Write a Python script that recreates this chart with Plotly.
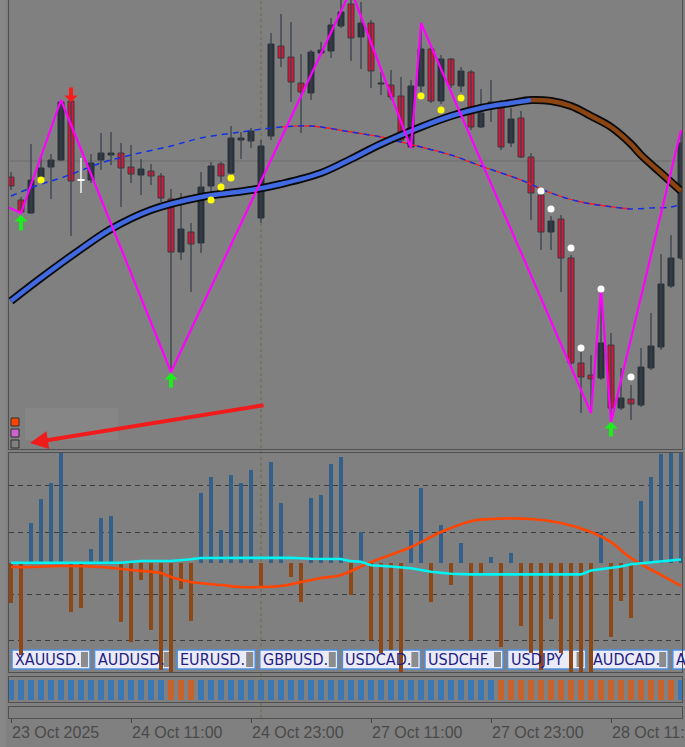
import plotly.graph_objects as go

# ---------------- data ----------------
time_labels = ["23 Oct 2025", "24 Oct 11:00", "24 Oct 23:00", "27 Oct 11:00", "27 Oct 23:00", "28 Oct 11:00"]
time_label_bars = [0, 12, 24, 36, 48, 60]

opens = [4051.5, 4040, 4033.5, 4051.5, 4056.5, 4060, 4089.5, 4050, 4050, 4060, 4062.5, 4063.5, 4056.5, 4052.5,
         4054.5, 4052, 4040.5, 4014, 4024, 4018.5, 4047, 4058, 4053.5, 4070, 4069.5, 4031, 4072, 4117, 4111.5,
         4098.5, 4093.5, 4113.5, 4114.5, 4127, 4138, 4121.5, 4128.5, 4098, 4097.5, 4092, 4066.5, 4097, 4115.5,
         4089.5, 4110.5, 4097, 4104, 4076.5, 4088, 4086, 4068.5, 4081, 4061.5, 4042.5, 4024, 4030.5, 4011,
         3958.5, 3952.5, 3951, 3967.5, 3936, 3940.5, 3937.5, 3956, 3966.5, 3997, 4011]
highs = [4054, 4041.5, 4068, 4062.5, 4063, 4090, 4091, 4061, 4063, 4073.5, 4074, 4068.5, 4067.5, 4060.5,
         4058, 4053.5, 4045.5, 4043.5, 4028.5, 4054, 4059, 4059, 4077, 4074, 4076, 4070, 4123.5, 4133, 4129,
         4113, 4115, 4119, 4131, 4142, 4145, 4139, 4130, 4104, 4105, 4101.5, 4100, 4128.5, 4116.5,
         4112.5, 4111, 4106.5, 4105, 4095.5, 4100, 4090, 4086, 4084.5, 4063.5, 4043, 4032, 4032.5, 4012.5,
         3964, 3962.5, 3995.5, 3973.5, 3956, 3947.5, 3966, 3983.5, 4013, 4022.5, 4075]
lows = [4045, 4033.5, 4033, 4050.5, 4040.5, 4059.5, 4022, 4043.5, 4048.5, 4055, 4057.5, 4036.5, 4048.5, 4042.5,
        4047.5, 4039, 3954, 4010, 3994, 4013.5, 4042.5, 4049, 4052, 4060.5, 4066, 4028.5, 4070, 4106.5, 4089,
        4073.5, 4090, 4112.5, 4111, 4126, 4109.5, 4105.5, 4096, 4092.5, 4090, 4068.5, 4066, 4094, 4088.5,
        4088, 4096, 4094, 4075, 4076, 4079, 4065, 4066.5, 4061, 4030, 4015, 4015, 3994, 3957.5,
        3933.5, 3933.5, 3950, 3929, 3935, 3930, 3936.5, 3955, 3965, 3996, 4010]
closes = [4047, 4034, 4050, 4056, 4060, 4089, 4049.5, 4050, 4058.5, 4063.5, 4063.5, 4056, 4053, 4055.5,
          4052, 4041, 4014, 4025.5, 4018, 4046.5, 4057, 4052, 4071, 4071, 4074.5, 4067, 4118, 4111, 4099,
          4094, 4114, 4115, 4127.5, 4134, 4121, 4128.5, 4104.5, 4098.5, 4091.5, 4070, 4097, 4115.5, 4089.5,
          4110.5, 4097.5, 4104.5, 4076.5, 4083.5, 4089, 4066.5, 4080.5, 4061.5, 4043.5, 4024, 4029.5, 4011, 3958.5,
          3951.5, 3950.5, 3968.5, 3936, 3941, 3938, 3956.5, 3967, 3998, 4011, 4068.5]

# fast moving average (thick, blue rising / brown falling)
ma_fast_bars = [0, 3, 7, 10, 14, 19, 24, 27, 31, 34, 37, 41, 44, 47, 50, 52, 54, 56, 58, 60, 62, 63, 65, 67]
ma_fast_vals = [3989.5, 4001, 4015.5, 4025.5, 4035, 4041.5, 4045, 4048, 4053.5, 4060.5, 4068, 4076.5, 4082,
                4086, 4088.5, 4090, 4089.5, 4087, 4082, 4076.5, 4068, 4062.5, 4053.5, 4044.5]
ma_fast_turn_bar = 52

# slow moving average (thin, blue dashed / red)
ma_slow_bars = [0, 3, 5, 9, 12, 16, 19, 23, 26, 27, 30, 34, 37, 39, 41, 44, 47, 51, 54, 57, 61, 62, 64, 66, 67]
ma_slow_vals = [4042, 4048, 4051, 4058.5, 4062.5, 4067, 4071, 4074, 4076, 4076.5, 4077, 4074, 4071.5, 4069,
                4066.5, 4062.5, 4057, 4050, 4043.5, 4039, 4036, 4035.5, 4036, 4036.5, 4038]
ma_slow_red_from, ma_slow_red_to = 27, 62

# zigzag
zz_bars = [-1, 1, 5, 16, 34, 40, 41, 58, 59, 60, 67]
zz_vals = [4038, 4033.5, 4090, 3954, 4145, 4066, 4128.5, 3933.5, 3995.5, 3929, 4075]

# signal dots
yellow_bars = [3, 20, 21, 22, 41, 43, 45]
yellow_vals = [4050, 4040, 4046.5, 4051, 4092, 4085, 4091]
white_bars = [53, 54, 56, 57, 59, 62]
white_vals = [4044.5, 4035.5, 4016, 3966, 3995.5, 3951.5]

# arrows
buy_bars = [1, 16, 60]
buy_tip = [4032.5, 3953.5, 3929]
buy_tail = [4024, 3945.5, 3921]
sell_bars = [6]
sell_tip = [4089]
sell_tail = [4097]

# drawn trend arrow (tail -> tip)
trend_arrow_bars = [25.4, 1.9]
trend_arrow_vals = [3937.5, 3918.5]

level_price = 4059.5
day_sep_bar = 25

# indicator histogram and lines
hist_values = [-25.8, -59.4, 25.8, 41.3, 51.6, 72, -31.6, -29, 9, 29, 30.3, -38, -51, -11, -43.2, -69, -75,
               -16.8, -37.4, 45.2, 55.5, 21.3, 56.8, 51.6, 60, -15.5, 65.2, 38.7, -9, -25.2, 42, 43.9, 63.9,
               68.4, -20.6, 20, -49.7, -58, -56, -75, 21.3, 48.4, -25.2, 24.5, -14.2, 12.9, -49.7, -7.7, 3.9,
               -54.2, 6.5, -40.6, -58, -69, -36.1, -58, -75, -75, -75, 19.4, -47.7, -24.5, -35.5, 40, 55.5,
               70.3, 75, 75]
signal_bars = [0, 11, 13, 16, 18, 19, 28, 30, 33, 34, 35, 36, 38, 40, 42, 44, 46, 57, 58, 60, 61, 62, 64, 67]
signal_vals = [0.2, 0.2, 1.3, 1.3, 2.4, 3.2, 3.4, 2.8, 2.6, 1.2, 0.8, -1.4, -2.2, -3.4, -5.6, -6.9, -7.3,
               -7.3, -4.8, -3.3, -2.2, -0.8, 0.3, 2.3]
slow_bars = [0, 2, 5, 9, 12, 15, 16, 18, 21, 23, 25, 27, 29, 31, 33, 36, 40, 43, 46, 48, 52, 55, 58, 60,
             62, 65, 67]
slow_vals = [-2.6, -2.6, -1.9, -2.6, -4.5, -6.5, -9, -12.3, -14.2, -15.5, -15.5, -14.8, -12.3, -9.7, -7.7,
             0.6, 10.3, 20, 27, 28.4, 28.4, 25.8, 20, 13.5, 3.2, -7.7, -14.8]
grid_levels = [-50, -20, 20, 50]

# trend strip states (1 = up/blue, -1 = down/orange)
trend_state = [1, 1, 1, 1, 1, 1, 1, 1, 1, 1, 1, 1, 1, 1, 1, 1, -1, -1, -1,
               1, 1, 1, 1, 1, 1, 1, 1, 1, 1, 1, 1, 1, 1, 1, 1, 1, 1, 1, 1, 1, 1, 1, 1, 1, 1, 1, 1, 1, 1,
               -1, -1, -1, -1, -1, -1, -1, -1, -1, -1, -1, -1, -1, -1, -1, -1, -1, -1, 1]

symbols = ["XAUUSD.", "AUDUSD.", "EURUSD.", "GBPUSD.", "USDCAD.", "USDCHF.", "USDJPY", "AUDCAD.", "A"]

# ---------------- figure ----------------
W, H = 685, 747


def fx(p):
    return p / W


def fy(p):
    return 1 - p / H


n = len(opens)
fig = go.Figure()

# candles: wicks
wx, wy, dxs, dys = [], [], [], []
for i in range(n):
    if opens[i] == closes[i]:
        dxs += [i, i, None]
        dys += [highs[i], lows[i], None]
    else:
        wx += [i, i, None]
        wy += [highs[i], lows[i], None]
fig.add_trace(go.Scatter(x=wx, y=wy, mode="lines", line=dict(color="#39424b", width=1.3), hoverinfo="skip"))
bull = [i for i in range(n) if closes[i] > opens[i]]
bear = [i for i in range(n) if closes[i] < opens[i]]
doji = [i for i in range(n) if closes[i] == opens[i]]
fig.add_trace(go.Bar(x=bull, base=[opens[i] for i in bull], y=[closes[i] - opens[i] for i in bull], width=0.6,
                     marker=dict(color="#2c333a", line=dict(color="#2c333a", width=1))))
fig.add_trace(go.Bar(x=bear, base=[closes[i] for i in bear], y=[opens[i] - closes[i] for i in bear], width=0.6,
                     marker=dict(color="#dc143c", line=dict(color="#3a3a3a", width=1))))
fig.add_trace(go.Scatter(x=dxs, y=dys, mode="lines", line=dict(color="white", width=1.3), hoverinfo="skip"))
fig.add_trace(go.Bar(x=doji, base=[closes[i] - 0.3 for i in doji], y=[0.6 for i in doji], width=0.7,
                     marker=dict(color="white", line=dict(width=0))))

# slow MA: red section + blue dashes
red_idx = [k for k, b in enumerate(ma_slow_bars) if ma_slow_red_from <= b <= ma_slow_red_to]
fig.add_trace(go.Scatter(x=[ma_slow_bars[k] for k in red_idx], y=[ma_slow_vals[k] for k in red_idx],
                         mode="lines", line=dict(color="#ff1a1a", width=1.3, shape="spline")))
fig.add_trace(go.Scatter(x=ma_slow_bars, y=ma_slow_vals, mode="lines",
                         line=dict(color="#1030e8", width=1.5, dash="6px,5px", shape="spline")))

# fast MA thick
fig.add_trace(go.Scatter(x=ma_fast_bars, y=ma_fast_vals, mode="lines",
                         line=dict(color="#0a0a0a", width=8, shape="spline")))
up_idx = [k for k, b in enumerate(ma_fast_bars) if b <= ma_fast_turn_bar]
dn_idx = [k for k, b in enumerate(ma_fast_bars) if b >= ma_fast_turn_bar]
fig.add_trace(go.Scatter(x=[ma_fast_bars[k] for k in up_idx], y=[ma_fast_vals[k] for k in up_idx], mode="lines",
                         line=dict(color="#4169e1", width=4.5, shape="spline")))
fig.add_trace(go.Scatter(x=[ma_fast_bars[k] for k in dn_idx], y=[ma_fast_vals[k] for k in dn_idx], mode="lines",
                         line=dict(color="#8b4513", width=4.5, shape="spline")))

# zigzag
fig.add_trace(go.Scatter(x=zz_bars, y=zz_vals, mode="lines", line=dict(color="#ff00ff", width=2.2)))

# dots
fig.add_trace(go.Scatter(x=yellow_bars, y=yellow_vals, mode="markers",
                         marker=dict(color="#ffff00", size=7, line=dict(width=0))))
fig.add_trace(go.Scatter(x=white_bars, y=white_vals, mode="markers",
                         marker=dict(color="#ffffff", size=7, line=dict(width=0))))

# indicator panel
hist_colors = ["#335f8b" if v >= 0 else "#8e4818" for v in hist_values]
fig.add_trace(go.Bar(x=list(range(n)), y=hist_values, width=0.4, marker=dict(color=hist_colors, line=dict(width=0)),
                     xaxis="x2", yaxis="y2"))
fig.add_trace(go.Scatter(x=slow_bars, y=slow_vals, mode="lines", line=dict(color="#ff4500", width=2.6, shape="spline"),
                         xaxis="x2", yaxis="y2"))
fig.add_trace(go.Scatter(x=signal_bars, y=signal_vals, mode="lines", line=dict(color="#00f4f4", width=2.6),
                         xaxis="x2", yaxis="y2"))

# trend strip
strip_colors = ["#3a78b5" if s > 0 else "#c5622e" for s in trend_state]
fig.add_trace(go.Bar(x=list(range(n)), base=[0.08 for s in trend_state], y=[0.8 for s in trend_state], width=0.6,
                     marker=dict(color=strip_colors, line=dict(width=0)), xaxis="x3", yaxis="y3"))

# empty bottom panel (carries the time axis)
fig.add_trace(go.Scatter(x=[None], y=[None], xaxis="x4", yaxis="y4"))

# ---------------- annotations ----------------
annotations = []
for b, t, tl in zip(buy_bars, buy_tip, buy_tail):
    annotations.append(dict(x=b, y=t, ax=b, ay=tl, xref="x", yref="y", axref="x", ayref="y", text="",
                            showarrow=True, arrowhead=1, arrowwidth=4, arrowsize=0.55, arrowcolor="#19f019"))
for b, t, tl in zip(sell_bars, sell_tip, sell_tail):
    annotations.append(dict(x=b, y=t, ax=b, ay=tl, xref="x", yref="y", axref="x", ayref="y", text="",
                            showarrow=True, arrowhead=1, arrowwidth=4, arrowsize=0.55, arrowcolor="#ff1a1a"))
annotations.append(dict(x=trend_arrow_bars[1], y=trend_arrow_vals[1], ax=trend_arrow_bars[0], ay=trend_arrow_vals[0],
                        xref="x", yref="y", axref="x", ayref="y", text="", showarrow=True, arrowhead=2,
                        arrowwidth=4, arrowsize=0.9, arrowcolor="#f21b1b"))

shapes = []
# left strip
shapes.append(dict(type="rect", xref="paper", yref="paper", x0=0, x1=fx(6), y0=0, y1=1,
                   fillcolor="#878787", line=dict(width=0), layer="below"))
# level line and day separator
shapes.append(dict(type="line", xref="paper", yref="y", x0=fx(9), x1=fx(682), y0=level_price, y1=level_price,
                   line=dict(color="#6c6c6c", width=1), layer="below"))
shapes.append(dict(type="line", xref="x", yref="paper", x0=day_sep_bar, x1=day_sep_bar, y0=fy(718), y1=1,
                   line=dict(color="#6a6a42", width=1, dash="3px,3px"), layer="below"))
# faint box & colour squares bottom-left of main panel
shapes.append(dict(type="rect", xref="paper", yref="paper", x0=fx(25), x1=fx(118), y0=fy(440), y1=fy(408),
                   fillcolor="rgba(255,255,255,0.05)", line=dict(width=0), layer="below"))
for k, col in enumerate(["#ff4500", "#cc66cc", "#808080"]):
    top = 418 + 11 * k
    shapes.append(dict(type="rect", xref="paper", yref="paper", x0=fx(11), x1=fx(19), y0=fy(top + 8), y1=fy(top),
                       fillcolor=col, line=dict(color="#2e2e2e", width=1)))
# symbol buttons
for k, s in enumerate(symbols):
    x0 = 12 + 82.6 * k
    x1 = x0 + 78
    shapes.append(dict(type="rect", xref="paper", yref="paper", x0=fx(x0), x1=fx(x1), y0=fy(669), y1=fy(650),
                       fillcolor="#ebebf7", line=dict(color="#4f8fdc", width=1.5), layer="below"))
    shapes.append(dict(type="rect", xref="paper", yref="paper", x0=fx(x1 - 9), x1=fx(x1 - 2), y0=fy(667), y1=fy(652),
                       fillcolor="#8c8c8c", line=dict(width=0), layer="below"))
    annotations.append(dict(x=fx(x0 + 1), y=fy(659.5), xref="paper", yref="paper", xanchor="left", yanchor="middle",
                            text=s, showarrow=False,
                            font=dict(family="DejaVu Sans Condensed, Liberation Sans, Arial", size=16,
                                      color="#1e1e86")))

frame = dict(showgrid=False, zeroline=False, showticklabels=False, showline=True, mirror=True,
             linecolor="#505050", linewidth=1, fixedrange=True, automargin=False)
xr = [-0.2, 67.1]
xdom = [fx(9), fx(682)]
fig.update_layout(
    width=W, height=H, margin=dict(l=0, r=0, t=0, b=0, autoexpand=False),
    paper_bgcolor="#808080", plot_bgcolor="rgba(0,0,0,0)",
    showlegend=False, barmode="overlay", hovermode=False,
    xaxis=dict(domain=xdom, range=xr, anchor="y", **frame),
    yaxis=dict(domain=[fy(449), fy(0)], range=[3915.5, 4140], anchor="x", **frame),
    xaxis2=dict(domain=xdom, range=xr, anchor="y2", **frame),
    yaxis2=dict(domain=[fy(672), fy(453)], range=[-70.3, 70.97], anchor="x2",
                showgrid=True, gridcolor="#3c3c3c", griddash="5px,4px", gridwidth=1, tickvals=grid_levels,
                zeroline=False, showticklabels=False, showline=True, mirror=True, linecolor="#505050",
                linewidth=1, fixedrange=True, automargin=False),
    xaxis3=dict(domain=xdom, range=xr, anchor="y3", **frame),
    yaxis3=dict(domain=[fy(702), fy(677)], range=[0, 1], anchor="x3", **frame),
    xaxis4=dict(domain=xdom, range=xr, anchor="y4", showgrid=False, zeroline=False, showline=True, mirror=True,
                linecolor="#505050", linewidth=1, fixedrange=True, automargin=False,
                tickmode="array", tickvals=time_label_bars, ticktext=time_labels, ticks="outside", ticklen=4,
                tickcolor="#444444", ticklabelposition="outside right", ticklabeloverflow="allow",
                tickfont=dict(family="Liberation Sans, Arial", size=16, color="#4a4a4a")),
    yaxis4=dict(domain=[fy(718), fy(707)], range=[0, 1], anchor="x4", **frame),
    shapes=shapes, annotations=annotations,
)

fig.write_html("out.html", config={"displayModeBar": False},
               post_script="document.body.style.margin='0';document.body.style.overflow='hidden';")
